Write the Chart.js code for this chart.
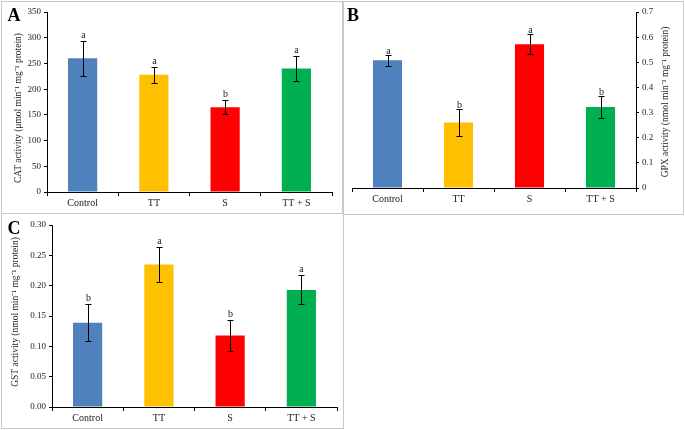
<!DOCTYPE html>
<html>
<head>
<meta charset="utf-8">
<script src="https://cdn.jsdelivr.net/npm/chart.js@4.4.0/dist/chart.umd.min.js"></script>
<style>
    body { margin: 0; background: #fff; width: 685px; height: 430px; position: relative; overflow: hidden; }
    .panel { position: absolute; border: 1px solid #c8c8c8; box-sizing: border-box; }
    canvas { position: absolute; }
</style>
</head>
<body>
<div class="panel" style="left:1px;top:1px;width:342px;height:213px"></div>
<div class="panel" style="left:343px;top:1px;width:341px;height:214px"></div>
<div class="panel" style="left:1px;top:213px;width:343px;height:216px"></div>
<canvas id="chartA" width="339" height="210" style="left:2px;top:2px"></canvas>
<canvas id="chartB" width="338" height="211" style="left:344px;top:2px"></canvas>
<canvas id="chartC" width="340" height="213" style="left:2px;top:214px"></canvas>

<script>
// datos
const categorias = ['Control', 'TT', 'S', 'TT + S'];

const catValores = [260, 228, 165, 240];
const catErrores = [34, 16, 14, 24];
const catLetras = ['a', 'a', 'b', 'a'];
const catTicks = [0, 50, 100, 150, 200, 250, 300, 350];

const gpxValores = [0.508, 0.261, 0.572, 0.322];
const gpxErrores = [0.022, 0.054, 0.040, 0.042];
const gpxLetras = ['a', 'b', 'a', 'b'];
const gpxTicks = [0, 0.1, 0.2, 0.3, 0.4, 0.5, 0.6, 0.7];

const gstValores = [0.139, 0.235, 0.118, 0.193];
const gstErrores = [0.030, 0.029, 0.025, 0.024];
const gstLetras = ['b', 'a', 'b', 'a'];
const gstTicks = [0, 0.05, 0.10, 0.15, 0.20, 0.25, 0.30];

const colores = ['#4f81bd', '#ffc000', '#ff0000', '#00b050'];
const fuente = '"Liberation Serif", "Times New Roman", serif';

// barras de error, letras, titulo del eje y letra del panel
const decoracion = {
    id: 'decoracion',
    afterDatasetsDraw(chart, args, opts) {
        const ctx = chart.ctx;
        const escalaY = chart.scales.y;
        const meta = chart.getDatasetMeta(0);
        const datos = chart.data.datasets[0].data;

        ctx.save();
        ctx.strokeStyle = '#000';
        ctx.lineWidth = 1;
        ctx.fillStyle = '#222';
        ctx.textAlign = 'center';
        ctx.textBaseline = 'middle';
        ctx.font = '10px ' + fuente;

        meta.data.forEach((barra, i) => {
            const v = datos[i];
            const e = opts.errores[i];
            const x = Math.round(barra.x) + 0.5;
            const arriba = Math.round(escalaY.getPixelForValue(v + e)) + 0.5;
            const abajo = Math.round(escalaY.getPixelForValue(v - e)) + 0.5;
            ctx.beginPath();
            ctx.moveTo(x, arriba); ctx.lineTo(x, abajo);
            ctx.moveTo(x - 3, arriba); ctx.lineTo(x + 3, arriba);
            ctx.moveTo(x - 3, abajo); ctx.lineTo(x + 3, abajo);
            ctx.stroke();
            ctx.fillText(opts.letras[i], x, arriba - opts.separacion);
        });

        ctx.font = 'bold 18px ' + fuente;
        ctx.fillStyle = '#000';
        ctx.fillText(opts.panel, opts.panelX, opts.panelY);

        ctx.font = '9.5px ' + fuente;
        ctx.fillStyle = '#222';
        ctx.translate(opts.tituloX, opts.tituloY);
        ctx.rotate(-Math.PI / 2);
        ctx.fillText(opts.titulo, 0, 0);
        ctx.restore();
    }
};

function crearPanel(id, cfg) {
    const canvas = document.getElementById(id);
    const W = canvas.width, H = canvas.height;
    const a = cfg.area; // area del grafico dentro del canvas
    const derecha = cfg.posicionY === 'right';

    return new Chart(canvas.getContext('2d'), {
        type: 'bar',
        data: {
            labels: categorias,
            datasets: [{
                data: cfg.valores,
                backgroundColor: colores,
                borderWidth: 0,
                categoryPercentage: 1,
                barPercentage: 0.41
            }]
        },
        options: {
            responsive: false,
            animation: false,
            layout: {
                padding: {
                    left: derecha ? a.left : 0,
                    right: derecha ? 0 : W - a.right,
                    top: a.top,
                    bottom: 0
                }
            },
            plugins: {
                legend: { display: false },
                tooltip: { enabled: false },
                decoracion: {
                    errores: cfg.errores,
                    letras: cfg.letras,
                    separacion: cfg.separacion,
                    titulo: cfg.titulo,
                    tituloX: cfg.tituloX,
                    tituloY: cfg.tituloY,
                    panel: cfg.panel,
                    panelX: cfg.panelX,
                    panelY: cfg.panelY
                }
            },
            scales: {
                x: {
                    grid: { display: true, offset: true, drawOnChartArea: false, drawTicks: true, tickLength: 4, color: '#000' },
                    border: { display: true, color: '#000', width: 1 },
                    ticks: { color: '#222', font: { family: fuente, size: 10 }, padding: 1, maxRotation: 0 },
                    afterFit: s => { s.height = H - a.bottom; }
                },
                y: {
                    position: cfg.posicionY,
                    min: 0,
                    max: cfg.ticks[cfg.ticks.length - 1],
                    afterBuildTicks: s => { s.ticks = cfg.ticks.map(v => ({ value: v })); },
                    grid: { display: true, drawOnChartArea: false, drawTicks: true, tickLength: 3, color: '#000' },
                    border: { display: true, color: '#000', width: 1 },
                    ticks: {
                        color: '#222',
                        font: { family: fuente, size: 9 },
                        padding: 3,
                        callback: v => cfg.formato(v)
                    },
                    afterFit: s => { s.width = derecha ? W - a.right : a.left; }
                }
            }
        },
        plugins: [decoracion]
    });
}

crearPanel('chartA', {
    valores: catValores, errores: catErrores, letras: catLetras, ticks: catTicks,
    formato: v => String(v),
    posicionY: 'left',
    area: { left: 45, right: 330, top: 10, bottom: 190 },
    separacion: 6,
    titulo: 'CAT activity (\u03bcmol min\u207b\u00b9 mg\u207b\u00b9 protein)',
    tituloX: 16, tituloY: 106,
    panel: 'A', panelX: 12, panelY: 14
});

crearPanel('chartB', {
    valores: gpxValores, errores: gpxErrores, letras: gpxLetras, ticks: gpxTicks,
    formato: v => (v === 0 ? '0' : v.toFixed(1)),
    posicionY: 'right',
    area: { left: 8, right: 292, top: 10, bottom: 186 },
    separacion: 4,
    titulo: 'GPX activity (nmol min\u207b\u00b9 mg\u207b\u00b9 protein)',
    tituloX: 321, tituloY: 100,
    panel: 'B', panelX: 9, panelY: 14
});

crearPanel('chartC', {
    valores: gstValores, errores: gstErrores, letras: gstLetras, ticks: gstTicks,
    formato: v => v.toFixed(2),
    posicionY: 'left',
    area: { left: 50, right: 335, top: 11, bottom: 193 },
    separacion: 6,
    titulo: 'GST activity (nmol min\u207b\u00b9 mg\u207b\u00b9 protein)',
    tituloX: 13, tituloY: 98,
    panel: 'C', panelX: 12, panelY: 15
});
</script>
</body>
</html>
